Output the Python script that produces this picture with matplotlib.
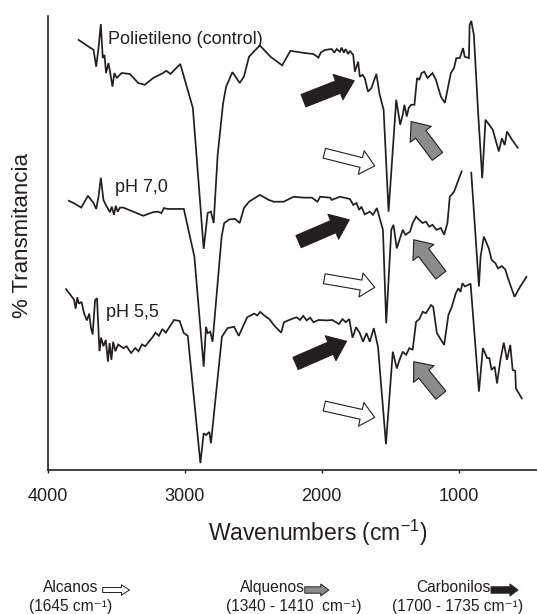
import numpy as np
import matplotlib
matplotlib.use("Agg")
import matplotlib.pyplot as plt
from matplotlib.patches import FancyArrowPatch

plt.rcParams['font.family'] = ['Liberation Sans', 'DejaVu Sans']
plt.rcParams['mathtext.fontset'] = 'custom'
plt.rcParams['mathtext.rm'] = 'Liberation Sans'
plt.rcParams['mathtext.it'] = 'Liberation Sans:italic'
plt.rcParams['mathtext.bf'] = 'Liberation Sans:bold'

INK = '#231f20'

# polietileno (control), wavenumber (cm-1) / transmittance (offset, a.u.)
wn_ctrl = [3774, 3665, 3646, 3629, 3612, 3598, 3585, 3574, 3556, 3545, 3527, 3513,
           3496, 3460, 3400, 3339, 3291, 3230, 3158, 3134, 3103, 3032, 2940, 2861,
           2832, 2808, 2788, 2759, 2719, 2697, 2651, 2598, 2567, 2530, 2451, 2373,
           2288, 2228, 2120, 2059, 2023, 2006, 1975, 1926, 1907, 1890, 1866, 1854,
           1837, 1825, 1806, 1793, 1769, 1757, 1733, 1721, 1701, 1685, 1661, 1636,
           1600, 1576, 1547, 1511, 1455, 1426, 1407, 1395, 1378, 1364, 1346, 1322,
           1303, 1286, 1270, 1250, 1226, 1190, 1165, 1129, 1100, 1056, 1033, 1016,
           991, 967, 955, 924, 919, 907, 888, 856, 827, 803, 750, 706, 683, 663,
           646, 610, 567]
t_ctrl = [94.8, 92.6, 88.9, 93.0, 98.3, 90.8, 91.5, 87.5, 89.7, 87.8, 84.5, 87.5,
          86.4, 87.5, 87.3, 85.3, 84.9, 86.4, 87.5, 88.0, 87.3, 89.5, 79.8, 48.7,
          56.6, 56.9, 54.4, 69.4, 80.9, 84.5, 87.7, 85.3, 86.7, 91.1, 93.6, 91.1,
          89.2, 92.4, 91.9, 91.7, 90.9, 92.0, 92.6, 92.8, 92.0, 92.8, 92.2, 93.1,
          92.0, 92.8, 91.7, 92.4, 91.5, 87.8, 90.0, 86.7, 87.1, 86.4, 83.4, 84.2,
          87.3, 82.7, 79.4, 56.9, 81.6, 76.1, 78.3, 80.5, 77.9, 79.8, 80.5, 80.5,
          86.4, 86.0, 87.5, 87.8, 86.4, 87.5, 86.0, 82.3, 80.9, 87.5, 88.6, 90.8,
          90.8, 93.0, 91.1, 90.8, 98.1, 99.0, 95.9, 78.3, 64.3, 77.2, 75.0, 70.2,
          73.1, 71.6, 74.6, 72.8, 71.0]

# pH 7,0 (nan = hidden stretch of the trace)
wn_ph70 = [3846, 3810, 3755, 3706, 3665, 3646, 3629, 3612, 3593, 3576, 3545, 3532,
           3516, 3503, 3489, 3472, 3448, 3375, 3303, 3230, 3194, 3170, 3151, 3122,
           3006, 2929, 2861, 2844, 2832, 2813, 2796, 2730, 2711, 2675, 2632, 2598,
           2567, 2530, 2451, 2386, 2349, 2277, 2204, 2132, 2071, 2030, 2011, 1938,
           1926, 1866, 1793, 1769, 1745, 1726, 1709, 1685, 1648, 1625, 1596, 1552,
           1528, 1491, 1475, 1451, 1431, 1407, 1388, 1354, 1335, 1310, 1291, 1262,
           1238, 1214, 1190, 1161, 1129, 1105, 1081, 1064, 1033, 977, np.nan, 907,
           851, 839, 815, 779, 759, 730, 712, 683, 658, 639, 591, 549, 504]
t_ph70 = [59.3, 58.8, 57.8, 60.4, 58.8, 57.5, 60.2, 64.4, 59.5, 58.4, 56.8, 58.0,
          56.2, 58.2, 56.9, 57.8, 57.8, 56.9, 56.0, 56.8, 56.9, 56.6, 57.7, 57.5,
          57.5, 47.0, 22.7, 31.5, 30.1, 30.4, 28.2, 51.4, 54.4, 55.2, 55.3, 54.4,
          57.7, 59.1, 60.6, 59.5, 59.1, 59.1, 60.2, 60.0, 60.0, 59.1, 60.2, 60.0,
          59.5, 60.2, 59.7, 58.4, 58.8, 57.3, 58.0, 56.3, 56.9, 56.2, 57.7, 52.9,
          32.3, 52.9, 54.0, 48.8, 50.7, 52.9, 51.8, 52.5, 54.4, 55.8, 55.2, 54.4,
          54.7, 53.6, 54.0, 52.9, 53.3, 51.8, 54.4, 60.2, 61.3, 65.8, np.nan, 65.5,
          40.4, 47.0, 51.4, 48.8, 46.3, 45.5, 44.4, 44.9, 44.1, 42.2, 38.1, 40.4, 42.5]

# pH 5,5
wn_ph55 = [3866, 3833, 3808, 3796, 3784, 3772, 3753, 3734, 3714, 3697, 3685, 3672,
           3654, 3640, 3622, 3610, 3593, 3576, 3560, 3548, 3535, 3522, 3506, 3486,
           3448, 3424, 3391, 3361, 3337, 3312, 3288, 3237, 3213, 3188, 3163, 3138,
           3078, 3037, 3006, 2977, 2885, 2861, 2844, 2820, 2808, 2728, 2687, 2639,
           2605, 2543, 2493, 2469, 2448, 2419, 2382, 2344, 2295, 2275, 2220, 2183,
           2158, 2134, 2109, 2083, 2059, 2022, 1960, 1922, 1873, 1848, 1823, 1798,
           1774, 1748, 1721, 1697, 1672, 1648, 1619, 1588, 1530, 1480, 1451, 1431,
           1407, 1383, 1359, 1335, 1310, 1286, 1262, 1238, 1201, 1185, 1158, 1105,
           1074, 1049, 1020, 1001, 985, 972, 953, 912, 851, 822, 791, 775, 759, 736,
           719, 694, 670, 646, 622, 605, 586, 581, 538]
t_ph55 = [39.8, 38.5, 37.5, 35.5, 38.0, 36.6, 37.0, 34.4, 32.9, 34.4, 31.4, 29.8,
          37.4, 37.8, 26.1, 29.1, 27.2, 28.6, 23.8, 27.9, 24.2, 28.2, 26.1, 27.6,
          26.8, 27.2, 25.7, 26.8, 26.1, 27.6, 27.2, 29.1, 30.2, 29.5, 31.0, 30.2,
          33.0, 32.8, 30.1, 29.5, 1.4, 8.0, 7.6, 8.3, 5.8, 29.3, 31.2, 31.5,
          29.5, 33.6, 34.4, 34.0, 34.8, 34.0, 33.2, 31.7, 30.2, 32.5, 33.2, 33.6,
          33.0, 33.9, 32.9, 33.5, 32.5, 33.0, 32.9, 33.0, 32.1, 33.2, 32.5, 33.2,
          29.1, 31.4, 30.1, 28.2, 30.1, 28.2, 31.2, 27.1, 5.6, 26.0, 22.3, 24.2,
          26.0, 25.3, 26.8, 26.4, 32.6, 33.2, 34.8, 34.5, 36.3, 35.9, 30.1, 27.5,
          34.1, 35.9, 38.9, 40.0, 39.2, 41.1, 40.4, 41.0, 17.2, 26.8, 24.6, 24.6,
          22.0, 22.7, 19.0, 24.2, 28.0, 24.2, 27.5, 22.0, 21.8, 17.9, 15.7]

curve_names = ['Polietileno (control)', 'pH 7,0', 'pH 5,5']
name_pos = [(3561, 94.8), (3508, 62.2), (3572, 34.6)]

# band markers (tail, tip) in (cm-1, transmittance)
carbonyl_tail = [(2132, 81.4), (2168, 50.3), (2190, 23.4)]
carbonyl_tip = [(1762, 85.8), (1798, 55.1), (1818, 28.3)]
alkane_tail = [(1980, 69.8), (1980, 42.1), (1980, 14.0)]
alkane_tip = [(1612, 67.0), (1612, 40.2), (1612, 11.5)]
alkene_tail = [(1154, 69.1), (1129, 42.9), (1129, 16.4)]
alkene_tip = [(1346, 76.8), (1327, 50.7), (1327, 23.8)]

legend_names = ['Alcanos', 'Alquenos', 'Carbonilos']
legend_ranges = ['(1645 cm\u207b\u00b9)', '(1340 - 1410  cm\u207b\u00b9)',
                 '(1700 - 1735 cm\u207b\u00b9)']
legend_colors = ['white', '#8c8c8c', INK]

W, H = 537, 614
fig = plt.figure(figsize=(W / 100, H / 100), dpi=100)
ax = fig.add_axes([47.7 / W, (H - 469.5) / H, (W - 47.7) / W, (469.5 - 16.4) / H])

for wn, t in [(wn_ctrl, t_ctrl), (wn_ph70, t_ph70), (wn_ph55, t_ph55)]:
    ax.plot(wn, t, color=INK, lw=1.25, solid_joinstyle='miter')

for name, (x, y) in zip(curve_names, name_pos):
    ax.text(x, y, name, fontsize=13, color=INK, ha='left', va='center')


def block_arrow(tail, tip, fc, tw, hw, hl):
    style = 'simple,head_length=%g,head_width=%g,tail_width=%g' % (hl, hw, tw)
    ax.annotate('', xy=tip, xytext=tail,
                arrowprops=dict(arrowstyle=style, fc=fc, ec=INK, lw=0.8,
                                shrinkA=0, shrinkB=0, mutation_scale=1))


for a, b in zip(carbonyl_tail, carbonyl_tip):
    block_arrow(a, b, INK, 9.5, 19.5, 12.5)
for a, b in zip(alkane_tail, alkane_tip):
    block_arrow(a, b, 'white', 7.2, 17.5, 10)
for a, b in zip(alkene_tail, alkene_tip):
    block_arrow(a, b, legend_colors[1], 9.3, 19, 11.5)

ax.set_xlim(4000, 427)
ax.set_ylim(0, 100)
ax.set_xticks([4000, 3000, 2000, 1000])
ax.tick_params(axis='x', direction='out', length=2, width=1, pad=11,
               labelsize=13, colors=INK)
ax.tick_params(axis='y', left=False, labelleft=False)
for side in ['top', 'right']:
    ax.spines[side].set_visible(False)
for side in ['left', 'bottom']:
    ax.spines[side].set_linewidth(1.2)
    ax.spines[side].set_color(INK)

ax.set_xlabel('Wavenumbers (cm$^{-1}$)', fontsize=16.5, color=INK, va='center')
ax.xaxis.set_label_coords((318 - 47.7) / (W - 47.7), -(533 - 469.5) / 453.1)
ax.set_ylabel('% Transmitancia', fontsize=16, color=INK, va='center')
ax.yaxis.set_label_coords((23 - 47.7) / (W - 47.7), (469.5 - 236) / 453.1)

# legend row below the axis
name_x = [42.8, 239.7, 416]
range_x = [29, 226, 392]
arrow_x = [(102.7, 129.5), (304.8, 328.8), (491, 518)]
for i in range(3):
    fig.text(name_x[i] / W, 1 - 592 / H, legend_names[i], fontsize=11.2,
             color=INK, ha='left', va='baseline')
    fig.text(range_x[i] / W, 1 - 610.5 / H, legend_ranges[i], fontsize=11.2,
             color=INK, ha='left', va='baseline')
    x0, x1 = arrow_x[i]
    tw, hw = (3.6, 7.5) if i == 0 else (4.6, 8.6)
    style = 'simple,head_length=5.8,head_width=%g,tail_width=%g' % (hw, tw)
    fig.add_artist(FancyArrowPatch((x0 / W, 1 - 590 / H), (x1 / W, 1 - 590 / H),
                                   transform=fig.transFigure, arrowstyle=style,
                                   fc=legend_colors[i], ec=INK, lw=0.7,
                                   mutation_scale=1, shrinkA=0, shrinkB=0))

fig.savefig('out.png', dpi=100)
